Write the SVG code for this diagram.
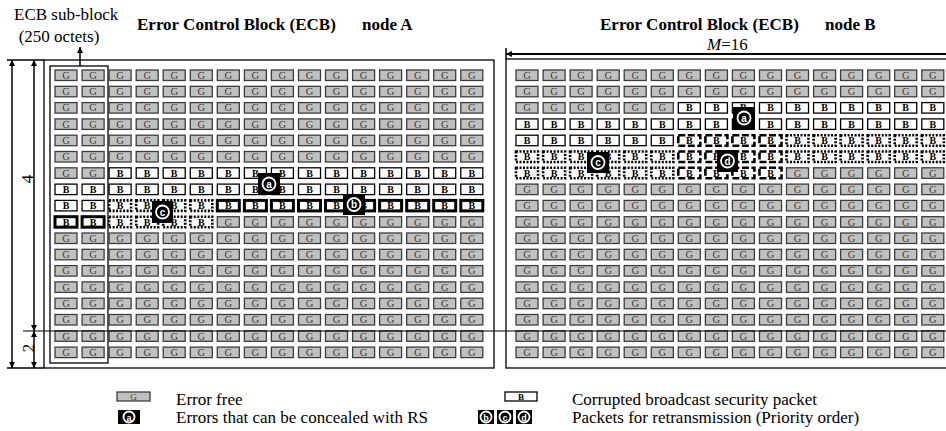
<svg xmlns="http://www.w3.org/2000/svg" width="946" height="431" viewBox="0 0 946 431">
<defs>
<marker id="ah" viewBox="0 0 10 10" refX="10" refY="5" markerWidth="6" markerHeight="7" markerUnits="userSpaceOnUse" orient="auto-start-reverse"><path d="M0,0 L10,5 L0,10 z" fill="#000"/></marker>
</defs>
<style>
.G rect{fill:#c0c0c0;stroke:#3c3c3c;stroke-width:1.3}
.G text{font:10.5px "Liberation Serif",serif;fill:#3c3c3c;text-anchor:middle}
.B rect{fill:#fff;stroke:#000;stroke-width:1.3}
.B text,.T text,.D text,.H text{font:bold 10px "Liberation Serif",serif;fill:#000;text-anchor:middle}
.T rect{fill:#fff;stroke:#000;stroke-width:3}
.D rect{fill:#fff;stroke:#000;stroke-width:2.6;stroke-dasharray:2 1.5}
.H rect{fill:#fff;stroke:#000;stroke-width:2.6;stroke-dasharray:7 2.5}
.badge rect{fill:#000}
.badge circle{fill:none;stroke:#fff;stroke-width:1.8}
.badge text{font:bold 10px "Liberation Sans",sans-serif;fill:#fff;text-anchor:middle}
.lbl{font:17px "Liberation Serif",serif;fill:#000}
.ttl{font:bold 17px "Liberation Serif",serif;fill:#000}
.frame{fill:none;stroke:#000;stroke-width:1.3}
.dim{fill:none;stroke:#000;stroke-width:1.5}
</style>
<rect width="946" height="431" fill="#fff"/>

<g id="labels">
<text class="lbl" x="14" y="20">ECB sub-block</text>
<text class="lbl" x="59" y="42" text-anchor="middle">(250 octets)</text>
<text class="lbl" x="0" y="0" font-style="italic" transform="translate(33,179) rotate(-90)" text-anchor="middle">4</text>
<text class="lbl" x="0" y="0" font-style="italic" transform="translate(34,348) rotate(-90)" text-anchor="middle">2</text>
<text class="lbl" x="707" y="50"><tspan font-style="italic">M</tspan>=16</text>
</g>

<g id="nodeA">
<text class="ttl" x="137" y="30">Error Control Block (ECB)</text>
<text class="ttl" x="362" y="30">node A</text>
<rect class="frame" x="44" y="60" width="450" height="308"/>
<rect class="frame" x="50" y="66" width="58" height="297"/>
<g transform="translate(0,70)"><g class="G"><rect x="55" width="22" height="10.5"/><text x="66" y="8.8">G</text><rect x="82.1" width="22" height="10.5"/><text x="93.1" y="8.8">G</text><rect x="109.1" width="22" height="10.5"/><text x="120.1" y="8.8">G</text><rect x="136.2" width="22" height="10.5"/><text x="147.2" y="8.8">G</text><rect x="163.2" width="22" height="10.5"/><text x="174.2" y="8.8">G</text><rect x="190.3" width="22" height="10.5"/><text x="201.3" y="8.8">G</text><rect x="217.3" width="22" height="10.5"/><text x="228.3" y="8.8">G</text><rect x="244.4" width="22" height="10.5"/><text x="255.4" y="8.8">G</text><rect x="271.4" width="22" height="10.5"/><text x="282.4" y="8.8">G</text><rect x="298.5" width="22" height="10.5"/><text x="309.5" y="8.8">G</text><rect x="325.5" width="22" height="10.5"/><text x="336.5" y="8.8">G</text><rect x="352.6" width="22" height="10.5"/><text x="363.6" y="8.8">G</text><rect x="379.6" width="22" height="10.5"/><text x="390.6" y="8.8">G</text><rect x="406.7" width="22" height="10.5"/><text x="417.7" y="8.8">G</text><rect x="433.7" width="22" height="10.5"/><text x="444.7" y="8.8">G</text><rect x="460.8" width="22" height="10.5"/><text x="471.8" y="8.8">G</text></g></g>
<g transform="translate(0,86.3)"><g class="G"><rect x="55" width="22" height="10.5"/><text x="66" y="8.8">G</text><rect x="82.1" width="22" height="10.5"/><text x="93.1" y="8.8">G</text><rect x="109.1" width="22" height="10.5"/><text x="120.1" y="8.8">G</text><rect x="136.2" width="22" height="10.5"/><text x="147.2" y="8.8">G</text><rect x="163.2" width="22" height="10.5"/><text x="174.2" y="8.8">G</text><rect x="190.3" width="22" height="10.5"/><text x="201.3" y="8.8">G</text><rect x="217.3" width="22" height="10.5"/><text x="228.3" y="8.8">G</text><rect x="244.4" width="22" height="10.5"/><text x="255.4" y="8.8">G</text><rect x="271.4" width="22" height="10.5"/><text x="282.4" y="8.8">G</text><rect x="298.5" width="22" height="10.5"/><text x="309.5" y="8.8">G</text><rect x="325.5" width="22" height="10.5"/><text x="336.5" y="8.8">G</text><rect x="352.6" width="22" height="10.5"/><text x="363.6" y="8.8">G</text><rect x="379.6" width="22" height="10.5"/><text x="390.6" y="8.8">G</text><rect x="406.7" width="22" height="10.5"/><text x="417.7" y="8.8">G</text><rect x="433.7" width="22" height="10.5"/><text x="444.7" y="8.8">G</text><rect x="460.8" width="22" height="10.5"/><text x="471.8" y="8.8">G</text></g></g>
<g transform="translate(0,102.6)"><g class="G"><rect x="55" width="22" height="10.5"/><text x="66" y="8.8">G</text><rect x="82.1" width="22" height="10.5"/><text x="93.1" y="8.8">G</text><rect x="109.1" width="22" height="10.5"/><text x="120.1" y="8.8">G</text><rect x="136.2" width="22" height="10.5"/><text x="147.2" y="8.8">G</text><rect x="163.2" width="22" height="10.5"/><text x="174.2" y="8.8">G</text><rect x="190.3" width="22" height="10.5"/><text x="201.3" y="8.8">G</text><rect x="217.3" width="22" height="10.5"/><text x="228.3" y="8.8">G</text><rect x="244.4" width="22" height="10.5"/><text x="255.4" y="8.8">G</text><rect x="271.4" width="22" height="10.5"/><text x="282.4" y="8.8">G</text><rect x="298.5" width="22" height="10.5"/><text x="309.5" y="8.8">G</text><rect x="325.5" width="22" height="10.5"/><text x="336.5" y="8.8">G</text><rect x="352.6" width="22" height="10.5"/><text x="363.6" y="8.8">G</text><rect x="379.6" width="22" height="10.5"/><text x="390.6" y="8.8">G</text><rect x="406.7" width="22" height="10.5"/><text x="417.7" y="8.8">G</text><rect x="433.7" width="22" height="10.5"/><text x="444.7" y="8.8">G</text><rect x="460.8" width="22" height="10.5"/><text x="471.8" y="8.8">G</text></g></g>
<g transform="translate(0,118.9)"><g class="G"><rect x="55" width="22" height="10.5"/><text x="66" y="8.8">G</text><rect x="82.1" width="22" height="10.5"/><text x="93.1" y="8.8">G</text><rect x="109.1" width="22" height="10.5"/><text x="120.1" y="8.8">G</text><rect x="136.2" width="22" height="10.5"/><text x="147.2" y="8.8">G</text><rect x="163.2" width="22" height="10.5"/><text x="174.2" y="8.8">G</text><rect x="190.3" width="22" height="10.5"/><text x="201.3" y="8.8">G</text><rect x="217.3" width="22" height="10.5"/><text x="228.3" y="8.8">G</text><rect x="244.4" width="22" height="10.5"/><text x="255.4" y="8.8">G</text><rect x="271.4" width="22" height="10.5"/><text x="282.4" y="8.8">G</text><rect x="298.5" width="22" height="10.5"/><text x="309.5" y="8.8">G</text><rect x="325.5" width="22" height="10.5"/><text x="336.5" y="8.8">G</text><rect x="352.6" width="22" height="10.5"/><text x="363.6" y="8.8">G</text><rect x="379.6" width="22" height="10.5"/><text x="390.6" y="8.8">G</text><rect x="406.7" width="22" height="10.5"/><text x="417.7" y="8.8">G</text><rect x="433.7" width="22" height="10.5"/><text x="444.7" y="8.8">G</text><rect x="460.8" width="22" height="10.5"/><text x="471.8" y="8.8">G</text></g></g>
<g transform="translate(0,135.2)"><g class="G"><rect x="55" width="22" height="10.5"/><text x="66" y="8.8">G</text><rect x="82.1" width="22" height="10.5"/><text x="93.1" y="8.8">G</text><rect x="109.1" width="22" height="10.5"/><text x="120.1" y="8.8">G</text><rect x="136.2" width="22" height="10.5"/><text x="147.2" y="8.8">G</text><rect x="163.2" width="22" height="10.5"/><text x="174.2" y="8.8">G</text><rect x="190.3" width="22" height="10.5"/><text x="201.3" y="8.8">G</text><rect x="217.3" width="22" height="10.5"/><text x="228.3" y="8.8">G</text><rect x="244.4" width="22" height="10.5"/><text x="255.4" y="8.8">G</text><rect x="271.4" width="22" height="10.5"/><text x="282.4" y="8.8">G</text><rect x="298.5" width="22" height="10.5"/><text x="309.5" y="8.8">G</text><rect x="325.5" width="22" height="10.5"/><text x="336.5" y="8.8">G</text><rect x="352.6" width="22" height="10.5"/><text x="363.6" y="8.8">G</text><rect x="379.6" width="22" height="10.5"/><text x="390.6" y="8.8">G</text><rect x="406.7" width="22" height="10.5"/><text x="417.7" y="8.8">G</text><rect x="433.7" width="22" height="10.5"/><text x="444.7" y="8.8">G</text><rect x="460.8" width="22" height="10.5"/><text x="471.8" y="8.8">G</text></g></g>
<g transform="translate(0,151.5)"><g class="G"><rect x="55" width="22" height="10.5"/><text x="66" y="8.8">G</text><rect x="82.1" width="22" height="10.5"/><text x="93.1" y="8.8">G</text><rect x="109.1" width="22" height="10.5"/><text x="120.1" y="8.8">G</text><rect x="136.2" width="22" height="10.5"/><text x="147.2" y="8.8">G</text><rect x="163.2" width="22" height="10.5"/><text x="174.2" y="8.8">G</text><rect x="190.3" width="22" height="10.5"/><text x="201.3" y="8.8">G</text><rect x="217.3" width="22" height="10.5"/><text x="228.3" y="8.8">G</text><rect x="244.4" width="22" height="10.5"/><text x="255.4" y="8.8">G</text><rect x="271.4" width="22" height="10.5"/><text x="282.4" y="8.8">G</text><rect x="298.5" width="22" height="10.5"/><text x="309.5" y="8.8">G</text><rect x="325.5" width="22" height="10.5"/><text x="336.5" y="8.8">G</text><rect x="352.6" width="22" height="10.5"/><text x="363.6" y="8.8">G</text><rect x="379.6" width="22" height="10.5"/><text x="390.6" y="8.8">G</text><rect x="406.7" width="22" height="10.5"/><text x="417.7" y="8.8">G</text><rect x="433.7" width="22" height="10.5"/><text x="444.7" y="8.8">G</text><rect x="460.8" width="22" height="10.5"/><text x="471.8" y="8.8">G</text></g></g>
<g transform="translate(0,167.8)"><g class="G"><rect x="55" width="22" height="10.5"/><text x="66" y="8.8">G</text><rect x="82.1" width="22" height="10.5"/><text x="93.1" y="8.8">G</text></g><g class="B"><rect x="109.1" width="22" height="10.5"/><text x="120.1" y="8.8">B</text><rect x="136.2" width="22" height="10.5"/><text x="147.2" y="8.8">B</text><rect x="163.2" width="22" height="10.5"/><text x="174.2" y="8.8">B</text><rect x="190.3" width="22" height="10.5"/><text x="201.3" y="8.8">B</text><rect x="217.3" width="22" height="10.5"/><text x="228.3" y="8.8">B</text><rect x="244.4" width="22" height="10.5"/><text x="255.4" y="8.8">B</text><rect x="271.4" width="22" height="10.5"/><text x="282.4" y="8.8">B</text><rect x="298.5" width="22" height="10.5"/><text x="309.5" y="8.8">B</text><rect x="325.5" width="22" height="10.5"/><text x="336.5" y="8.8">B</text><rect x="352.6" width="22" height="10.5"/><text x="363.6" y="8.8">B</text><rect x="379.6" width="22" height="10.5"/><text x="390.6" y="8.8">B</text><rect x="406.7" width="22" height="10.5"/><text x="417.7" y="8.8">B</text><rect x="433.7" width="22" height="10.5"/><text x="444.7" y="8.8">B</text><rect x="460.8" width="22" height="10.5"/><text x="471.8" y="8.8">B</text></g></g>
<g transform="translate(0,184.1)"><g class="B"><rect x="55" width="22" height="10.5"/><text x="66" y="8.8">B</text><rect x="82.1" width="22" height="10.5"/><text x="93.1" y="8.8">B</text><rect x="109.1" width="22" height="10.5"/><text x="120.1" y="8.8">B</text><rect x="136.2" width="22" height="10.5"/><text x="147.2" y="8.8">B</text><rect x="163.2" width="22" height="10.5"/><text x="174.2" y="8.8">B</text><rect x="190.3" width="22" height="10.5"/><text x="201.3" y="8.8">B</text><rect x="217.3" width="22" height="10.5"/><text x="228.3" y="8.8">B</text><rect x="244.4" width="22" height="10.5"/><text x="255.4" y="8.8">B</text><rect x="271.4" width="22" height="10.5"/><text x="282.4" y="8.8">B</text><rect x="298.5" width="22" height="10.5"/><text x="309.5" y="8.8">B</text><rect x="325.5" width="22" height="10.5"/><text x="336.5" y="8.8">B</text><rect x="352.6" width="22" height="10.5"/><text x="363.6" y="8.8">B</text><rect x="379.6" width="22" height="10.5"/><text x="390.6" y="8.8">B</text><rect x="406.7" width="22" height="10.5"/><text x="417.7" y="8.8">B</text><rect x="433.7" width="22" height="10.5"/><text x="444.7" y="8.8">B</text><rect x="460.8" width="22" height="10.5"/><text x="471.8" y="8.8">B</text></g></g>
<g transform="translate(0,200.4)"><g class="B"><rect x="55" width="22" height="10.5"/><text x="66" y="8.8">B</text><rect x="82.1" width="22" height="10.5"/><text x="93.1" y="8.8">B</text></g><g class="D"><rect x="109.1" width="22" height="10.5"/><text x="120.1" y="8.8">B</text><rect x="136.2" width="22" height="10.5"/><text x="147.2" y="8.8">B</text><rect x="163.2" width="22" height="10.5"/><text x="174.2" y="8.8">B</text><rect x="190.3" width="22" height="10.5"/><text x="201.3" y="8.8">B</text></g><g class="T"><rect x="217.3" width="22" height="10.5"/><text x="228.3" y="8.8">B</text><rect x="244.4" width="22" height="10.5"/><text x="255.4" y="8.8">B</text><rect x="271.4" width="22" height="10.5"/><text x="282.4" y="8.8">B</text><rect x="298.5" width="22" height="10.5"/><text x="309.5" y="8.8">B</text><rect x="325.5" width="22" height="10.5"/><text x="336.5" y="8.8">B</text><rect x="352.6" width="22" height="10.5"/><text x="363.6" y="8.8">B</text><rect x="379.6" width="22" height="10.5"/><text x="390.6" y="8.8">B</text><rect x="406.7" width="22" height="10.5"/><text x="417.7" y="8.8">B</text><rect x="433.7" width="22" height="10.5"/><text x="444.7" y="8.8">B</text><rect x="460.8" width="22" height="10.5"/><text x="471.8" y="8.8">B</text></g></g>
<g transform="translate(0,216.7)"><g class="T"><rect x="55" width="22" height="10.5"/><text x="66" y="8.8">B</text><rect x="82.1" width="22" height="10.5"/><text x="93.1" y="8.8">B</text></g><g class="D"><rect x="109.1" width="22" height="10.5"/><text x="120.1" y="8.8">B</text><rect x="136.2" width="22" height="10.5"/><text x="147.2" y="8.8">B</text><rect x="163.2" width="22" height="10.5"/><text x="174.2" y="8.8">B</text><rect x="190.3" width="22" height="10.5"/><text x="201.3" y="8.8">B</text></g><g class="G"><rect x="217.3" width="22" height="10.5"/><text x="228.3" y="8.8">G</text><rect x="244.4" width="22" height="10.5"/><text x="255.4" y="8.8">G</text><rect x="271.4" width="22" height="10.5"/><text x="282.4" y="8.8">G</text><rect x="298.5" width="22" height="10.5"/><text x="309.5" y="8.8">G</text><rect x="325.5" width="22" height="10.5"/><text x="336.5" y="8.8">G</text><rect x="352.6" width="22" height="10.5"/><text x="363.6" y="8.8">G</text><rect x="379.6" width="22" height="10.5"/><text x="390.6" y="8.8">G</text><rect x="406.7" width="22" height="10.5"/><text x="417.7" y="8.8">G</text><rect x="433.7" width="22" height="10.5"/><text x="444.7" y="8.8">G</text><rect x="460.8" width="22" height="10.5"/><text x="471.8" y="8.8">G</text></g></g>
<g transform="translate(0,233)"><g class="G"><rect x="55" width="22" height="10.5"/><text x="66" y="8.8">G</text><rect x="82.1" width="22" height="10.5"/><text x="93.1" y="8.8">G</text><rect x="109.1" width="22" height="10.5"/><text x="120.1" y="8.8">G</text><rect x="136.2" width="22" height="10.5"/><text x="147.2" y="8.8">G</text><rect x="163.2" width="22" height="10.5"/><text x="174.2" y="8.8">G</text><rect x="190.3" width="22" height="10.5"/><text x="201.3" y="8.8">G</text><rect x="217.3" width="22" height="10.5"/><text x="228.3" y="8.8">G</text><rect x="244.4" width="22" height="10.5"/><text x="255.4" y="8.8">G</text><rect x="271.4" width="22" height="10.5"/><text x="282.4" y="8.8">G</text><rect x="298.5" width="22" height="10.5"/><text x="309.5" y="8.8">G</text><rect x="325.5" width="22" height="10.5"/><text x="336.5" y="8.8">G</text><rect x="352.6" width="22" height="10.5"/><text x="363.6" y="8.8">G</text><rect x="379.6" width="22" height="10.5"/><text x="390.6" y="8.8">G</text><rect x="406.7" width="22" height="10.5"/><text x="417.7" y="8.8">G</text><rect x="433.7" width="22" height="10.5"/><text x="444.7" y="8.8">G</text><rect x="460.8" width="22" height="10.5"/><text x="471.8" y="8.8">G</text></g></g>
<g transform="translate(0,249.3)"><g class="G"><rect x="55" width="22" height="10.5"/><text x="66" y="8.8">G</text><rect x="82.1" width="22" height="10.5"/><text x="93.1" y="8.8">G</text><rect x="109.1" width="22" height="10.5"/><text x="120.1" y="8.8">G</text><rect x="136.2" width="22" height="10.5"/><text x="147.2" y="8.8">G</text><rect x="163.2" width="22" height="10.5"/><text x="174.2" y="8.8">G</text><rect x="190.3" width="22" height="10.5"/><text x="201.3" y="8.8">G</text><rect x="217.3" width="22" height="10.5"/><text x="228.3" y="8.8">G</text><rect x="244.4" width="22" height="10.5"/><text x="255.4" y="8.8">G</text><rect x="271.4" width="22" height="10.5"/><text x="282.4" y="8.8">G</text><rect x="298.5" width="22" height="10.5"/><text x="309.5" y="8.8">G</text><rect x="325.5" width="22" height="10.5"/><text x="336.5" y="8.8">G</text><rect x="352.6" width="22" height="10.5"/><text x="363.6" y="8.8">G</text><rect x="379.6" width="22" height="10.5"/><text x="390.6" y="8.8">G</text><rect x="406.7" width="22" height="10.5"/><text x="417.7" y="8.8">G</text><rect x="433.7" width="22" height="10.5"/><text x="444.7" y="8.8">G</text><rect x="460.8" width="22" height="10.5"/><text x="471.8" y="8.8">G</text></g></g>
<g transform="translate(0,265.6)"><g class="G"><rect x="55" width="22" height="10.5"/><text x="66" y="8.8">G</text><rect x="82.1" width="22" height="10.5"/><text x="93.1" y="8.8">G</text><rect x="109.1" width="22" height="10.5"/><text x="120.1" y="8.8">G</text><rect x="136.2" width="22" height="10.5"/><text x="147.2" y="8.8">G</text><rect x="163.2" width="22" height="10.5"/><text x="174.2" y="8.8">G</text><rect x="190.3" width="22" height="10.5"/><text x="201.3" y="8.8">G</text><rect x="217.3" width="22" height="10.5"/><text x="228.3" y="8.8">G</text><rect x="244.4" width="22" height="10.5"/><text x="255.4" y="8.8">G</text><rect x="271.4" width="22" height="10.5"/><text x="282.4" y="8.8">G</text><rect x="298.5" width="22" height="10.5"/><text x="309.5" y="8.8">G</text><rect x="325.5" width="22" height="10.5"/><text x="336.5" y="8.8">G</text><rect x="352.6" width="22" height="10.5"/><text x="363.6" y="8.8">G</text><rect x="379.6" width="22" height="10.5"/><text x="390.6" y="8.8">G</text><rect x="406.7" width="22" height="10.5"/><text x="417.7" y="8.8">G</text><rect x="433.7" width="22" height="10.5"/><text x="444.7" y="8.8">G</text><rect x="460.8" width="22" height="10.5"/><text x="471.8" y="8.8">G</text></g></g>
<g transform="translate(0,281.9)"><g class="G"><rect x="55" width="22" height="10.5"/><text x="66" y="8.8">G</text><rect x="82.1" width="22" height="10.5"/><text x="93.1" y="8.8">G</text><rect x="109.1" width="22" height="10.5"/><text x="120.1" y="8.8">G</text><rect x="136.2" width="22" height="10.5"/><text x="147.2" y="8.8">G</text><rect x="163.2" width="22" height="10.5"/><text x="174.2" y="8.8">G</text><rect x="190.3" width="22" height="10.5"/><text x="201.3" y="8.8">G</text><rect x="217.3" width="22" height="10.5"/><text x="228.3" y="8.8">G</text><rect x="244.4" width="22" height="10.5"/><text x="255.4" y="8.8">G</text><rect x="271.4" width="22" height="10.5"/><text x="282.4" y="8.8">G</text><rect x="298.5" width="22" height="10.5"/><text x="309.5" y="8.8">G</text><rect x="325.5" width="22" height="10.5"/><text x="336.5" y="8.8">G</text><rect x="352.6" width="22" height="10.5"/><text x="363.6" y="8.8">G</text><rect x="379.6" width="22" height="10.5"/><text x="390.6" y="8.8">G</text><rect x="406.7" width="22" height="10.5"/><text x="417.7" y="8.8">G</text><rect x="433.7" width="22" height="10.5"/><text x="444.7" y="8.8">G</text><rect x="460.8" width="22" height="10.5"/><text x="471.8" y="8.8">G</text></g></g>
<g transform="translate(0,298.2)"><g class="G"><rect x="55" width="22" height="10.5"/><text x="66" y="8.8">G</text><rect x="82.1" width="22" height="10.5"/><text x="93.1" y="8.8">G</text><rect x="109.1" width="22" height="10.5"/><text x="120.1" y="8.8">G</text><rect x="136.2" width="22" height="10.5"/><text x="147.2" y="8.8">G</text><rect x="163.2" width="22" height="10.5"/><text x="174.2" y="8.8">G</text><rect x="190.3" width="22" height="10.5"/><text x="201.3" y="8.8">G</text><rect x="217.3" width="22" height="10.5"/><text x="228.3" y="8.8">G</text><rect x="244.4" width="22" height="10.5"/><text x="255.4" y="8.8">G</text><rect x="271.4" width="22" height="10.5"/><text x="282.4" y="8.8">G</text><rect x="298.5" width="22" height="10.5"/><text x="309.5" y="8.8">G</text><rect x="325.5" width="22" height="10.5"/><text x="336.5" y="8.8">G</text><rect x="352.6" width="22" height="10.5"/><text x="363.6" y="8.8">G</text><rect x="379.6" width="22" height="10.5"/><text x="390.6" y="8.8">G</text><rect x="406.7" width="22" height="10.5"/><text x="417.7" y="8.8">G</text><rect x="433.7" width="22" height="10.5"/><text x="444.7" y="8.8">G</text><rect x="460.8" width="22" height="10.5"/><text x="471.8" y="8.8">G</text></g></g>
<g transform="translate(0,314.5)"><g class="G"><rect x="55" width="22" height="10.5"/><text x="66" y="8.8">G</text><rect x="82.1" width="22" height="10.5"/><text x="93.1" y="8.8">G</text><rect x="109.1" width="22" height="10.5"/><text x="120.1" y="8.8">G</text><rect x="136.2" width="22" height="10.5"/><text x="147.2" y="8.8">G</text><rect x="163.2" width="22" height="10.5"/><text x="174.2" y="8.8">G</text><rect x="190.3" width="22" height="10.5"/><text x="201.3" y="8.8">G</text><rect x="217.3" width="22" height="10.5"/><text x="228.3" y="8.8">G</text><rect x="244.4" width="22" height="10.5"/><text x="255.4" y="8.8">G</text><rect x="271.4" width="22" height="10.5"/><text x="282.4" y="8.8">G</text><rect x="298.5" width="22" height="10.5"/><text x="309.5" y="8.8">G</text><rect x="325.5" width="22" height="10.5"/><text x="336.5" y="8.8">G</text><rect x="352.6" width="22" height="10.5"/><text x="363.6" y="8.8">G</text><rect x="379.6" width="22" height="10.5"/><text x="390.6" y="8.8">G</text><rect x="406.7" width="22" height="10.5"/><text x="417.7" y="8.8">G</text><rect x="433.7" width="22" height="10.5"/><text x="444.7" y="8.8">G</text><rect x="460.8" width="22" height="10.5"/><text x="471.8" y="8.8">G</text></g></g>
<g transform="translate(0,330.8)"><g class="G"><rect x="55" width="22" height="10.5"/><text x="66" y="8.8">G</text><rect x="82.1" width="22" height="10.5"/><text x="93.1" y="8.8">G</text><rect x="109.1" width="22" height="10.5"/><text x="120.1" y="8.8">G</text><rect x="136.2" width="22" height="10.5"/><text x="147.2" y="8.8">G</text><rect x="163.2" width="22" height="10.5"/><text x="174.2" y="8.8">G</text><rect x="190.3" width="22" height="10.5"/><text x="201.3" y="8.8">G</text><rect x="217.3" width="22" height="10.5"/><text x="228.3" y="8.8">G</text><rect x="244.4" width="22" height="10.5"/><text x="255.4" y="8.8">G</text><rect x="271.4" width="22" height="10.5"/><text x="282.4" y="8.8">G</text><rect x="298.5" width="22" height="10.5"/><text x="309.5" y="8.8">G</text><rect x="325.5" width="22" height="10.5"/><text x="336.5" y="8.8">G</text><rect x="352.6" width="22" height="10.5"/><text x="363.6" y="8.8">G</text><rect x="379.6" width="22" height="10.5"/><text x="390.6" y="8.8">G</text><rect x="406.7" width="22" height="10.5"/><text x="417.7" y="8.8">G</text><rect x="433.7" width="22" height="10.5"/><text x="444.7" y="8.8">G</text><rect x="460.8" width="22" height="10.5"/><text x="471.8" y="8.8">G</text></g></g>
<g transform="translate(0,347.1)"><g class="G"><rect x="55" width="22" height="10.5"/><text x="66" y="8.8">G</text><rect x="82.1" width="22" height="10.5"/><text x="93.1" y="8.8">G</text><rect x="109.1" width="22" height="10.5"/><text x="120.1" y="8.8">G</text><rect x="136.2" width="22" height="10.5"/><text x="147.2" y="8.8">G</text><rect x="163.2" width="22" height="10.5"/><text x="174.2" y="8.8">G</text><rect x="190.3" width="22" height="10.5"/><text x="201.3" y="8.8">G</text><rect x="217.3" width="22" height="10.5"/><text x="228.3" y="8.8">G</text><rect x="244.4" width="22" height="10.5"/><text x="255.4" y="8.8">G</text><rect x="271.4" width="22" height="10.5"/><text x="282.4" y="8.8">G</text><rect x="298.5" width="22" height="10.5"/><text x="309.5" y="8.8">G</text><rect x="325.5" width="22" height="10.5"/><text x="336.5" y="8.8">G</text><rect x="352.6" width="22" height="10.5"/><text x="363.6" y="8.8">G</text><rect x="379.6" width="22" height="10.5"/><text x="390.6" y="8.8">G</text><rect x="406.7" width="22" height="10.5"/><text x="417.7" y="8.8">G</text><rect x="433.7" width="22" height="10.5"/><text x="444.7" y="8.8">G</text><rect x="460.8" width="22" height="10.5"/><text x="471.8" y="8.8">G</text></g></g>
<g class="badge"><rect x="258" y="173" width="22" height="22"/><circle cx="269" cy="184" r="6.5"/><text x="269" y="187.5">a</text></g>
<g class="badge"><rect x="343" y="194" width="22" height="21"/><circle cx="354" cy="204.5" r="6.5"/><text x="354" y="208">b</text></g>
<g class="badge"><rect x="152" y="201" width="21" height="22"/><circle cx="162.5" cy="212" r="6.5"/><text x="162.5" y="215.5">c</text></g>
</g>

<g id="nodeB">
<text class="ttl" x="600" y="30">Error Control Block (ECB)</text>
<text class="ttl" x="825" y="30">node B</text>
<rect class="frame" x="506" y="59" width="450" height="309"/>
<g transform="translate(0,70)"><g class="G"><rect x="516" width="22" height="10.5"/><text x="527" y="8.8">G</text><rect x="543.1" width="22" height="10.5"/><text x="554.1" y="8.8">G</text><rect x="570.1" width="22" height="10.5"/><text x="581.1" y="8.8">G</text><rect x="597.2" width="22" height="10.5"/><text x="608.2" y="8.8">G</text><rect x="624.2" width="22" height="10.5"/><text x="635.2" y="8.8">G</text><rect x="651.3" width="22" height="10.5"/><text x="662.3" y="8.8">G</text><rect x="678.3" width="22" height="10.5"/><text x="689.3" y="8.8">G</text><rect x="705.4" width="22" height="10.5"/><text x="716.4" y="8.8">G</text><rect x="732.4" width="22" height="10.5"/><text x="743.4" y="8.8">G</text><rect x="759.5" width="22" height="10.5"/><text x="770.5" y="8.8">G</text><rect x="786.5" width="22" height="10.5"/><text x="797.5" y="8.8">G</text><rect x="813.6" width="22" height="10.5"/><text x="824.6" y="8.8">G</text><rect x="840.6" width="22" height="10.5"/><text x="851.6" y="8.8">G</text><rect x="867.7" width="22" height="10.5"/><text x="878.7" y="8.8">G</text><rect x="894.7" width="22" height="10.5"/><text x="905.7" y="8.8">G</text><rect x="921.8" width="22" height="10.5"/><text x="932.8" y="8.8">G</text></g></g>
<g transform="translate(0,86.3)"><g class="G"><rect x="516" width="22" height="10.5"/><text x="527" y="8.8">G</text><rect x="543.1" width="22" height="10.5"/><text x="554.1" y="8.8">G</text><rect x="570.1" width="22" height="10.5"/><text x="581.1" y="8.8">G</text><rect x="597.2" width="22" height="10.5"/><text x="608.2" y="8.8">G</text><rect x="624.2" width="22" height="10.5"/><text x="635.2" y="8.8">G</text><rect x="651.3" width="22" height="10.5"/><text x="662.3" y="8.8">G</text><rect x="678.3" width="22" height="10.5"/><text x="689.3" y="8.8">G</text><rect x="705.4" width="22" height="10.5"/><text x="716.4" y="8.8">G</text><rect x="732.4" width="22" height="10.5"/><text x="743.4" y="8.8">G</text><rect x="759.5" width="22" height="10.5"/><text x="770.5" y="8.8">G</text><rect x="786.5" width="22" height="10.5"/><text x="797.5" y="8.8">G</text><rect x="813.6" width="22" height="10.5"/><text x="824.6" y="8.8">G</text><rect x="840.6" width="22" height="10.5"/><text x="851.6" y="8.8">G</text><rect x="867.7" width="22" height="10.5"/><text x="878.7" y="8.8">G</text><rect x="894.7" width="22" height="10.5"/><text x="905.7" y="8.8">G</text><rect x="921.8" width="22" height="10.5"/><text x="932.8" y="8.8">G</text></g></g>
<g transform="translate(0,102.6)"><g class="G"><rect x="516" width="22" height="10.5"/><text x="527" y="8.8">G</text><rect x="543.1" width="22" height="10.5"/><text x="554.1" y="8.8">G</text><rect x="570.1" width="22" height="10.5"/><text x="581.1" y="8.8">G</text><rect x="597.2" width="22" height="10.5"/><text x="608.2" y="8.8">G</text><rect x="624.2" width="22" height="10.5"/><text x="635.2" y="8.8">G</text><rect x="651.3" width="22" height="10.5"/><text x="662.3" y="8.8">G</text></g><g class="B"><rect x="678.3" width="22" height="10.5"/><text x="689.3" y="8.8">B</text><rect x="705.4" width="22" height="10.5"/><text x="716.4" y="8.8">B</text><rect x="732.4" width="22" height="10.5"/><text x="743.4" y="8.8">B</text><rect x="759.5" width="22" height="10.5"/><text x="770.5" y="8.8">B</text><rect x="786.5" width="22" height="10.5"/><text x="797.5" y="8.8">B</text><rect x="813.6" width="22" height="10.5"/><text x="824.6" y="8.8">B</text><rect x="840.6" width="22" height="10.5"/><text x="851.6" y="8.8">B</text><rect x="867.7" width="22" height="10.5"/><text x="878.7" y="8.8">B</text><rect x="894.7" width="22" height="10.5"/><text x="905.7" y="8.8">B</text><rect x="921.8" width="22" height="10.5"/><text x="932.8" y="8.8">B</text></g></g>
<g transform="translate(0,118.9)"><g class="B"><rect x="516" width="22" height="10.5"/><text x="527" y="8.8">B</text><rect x="543.1" width="22" height="10.5"/><text x="554.1" y="8.8">B</text><rect x="570.1" width="22" height="10.5"/><text x="581.1" y="8.8">B</text><rect x="597.2" width="22" height="10.5"/><text x="608.2" y="8.8">B</text><rect x="624.2" width="22" height="10.5"/><text x="635.2" y="8.8">B</text><rect x="651.3" width="22" height="10.5"/><text x="662.3" y="8.8">B</text><rect x="678.3" width="22" height="10.5"/><text x="689.3" y="8.8">B</text><rect x="705.4" width="22" height="10.5"/><text x="716.4" y="8.8">B</text><rect x="732.4" width="22" height="10.5"/><rect x="759.5" width="22" height="10.5"/><text x="770.5" y="8.8">B</text><rect x="786.5" width="22" height="10.5"/><text x="797.5" y="8.8">B</text><rect x="813.6" width="22" height="10.5"/><text x="824.6" y="8.8">B</text><rect x="840.6" width="22" height="10.5"/><text x="851.6" y="8.8">B</text><rect x="867.7" width="22" height="10.5"/><text x="878.7" y="8.8">B</text><rect x="894.7" width="22" height="10.5"/><text x="905.7" y="8.8">B</text><rect x="921.8" width="22" height="10.5"/><text x="932.8" y="8.8">B</text></g></g>
<g transform="translate(0,135.2)"><g class="B"><rect x="516" width="22" height="10.5"/><text x="527" y="8.8">B</text><rect x="543.1" width="22" height="10.5"/><text x="554.1" y="8.8">B</text><rect x="570.1" width="22" height="10.5"/><text x="581.1" y="8.8">B</text><rect x="597.2" width="22" height="10.5"/><text x="608.2" y="8.8">B</text><rect x="624.2" width="22" height="10.5"/><text x="635.2" y="8.8">B</text><rect x="651.3" width="22" height="10.5"/><text x="662.3" y="8.8">B</text></g><g class="H"><rect x="678.3" width="22" height="10.5"/><text x="689.3" y="8.8">B</text><rect x="705.4" width="22" height="10.5"/><text x="716.4" y="8.8">B</text><rect x="732.4" width="22" height="10.5"/><text x="743.4" y="8.8">B</text><rect x="759.5" width="22" height="10.5"/><text x="770.5" y="8.8">B</text></g><g class="D"><rect x="786.5" width="22" height="10.5"/><text x="797.5" y="8.8">B</text><rect x="813.6" width="22" height="10.5"/><text x="824.6" y="8.8">B</text><rect x="840.6" width="22" height="10.5"/><text x="851.6" y="8.8">B</text><rect x="867.7" width="22" height="10.5"/><text x="878.7" y="8.8">B</text><rect x="894.7" width="22" height="10.5"/><text x="905.7" y="8.8">B</text><rect x="921.8" width="22" height="10.5"/><text x="932.8" y="8.8">B</text></g></g>
<g transform="translate(0,151.5)"><g class="D"><rect x="516" width="22" height="10.5"/><text x="527" y="8.8">B</text><rect x="543.1" width="22" height="10.5"/><text x="554.1" y="8.8">B</text><rect x="570.1" width="22" height="10.5"/><text x="581.1" y="8.8">B</text><rect x="597.2" width="22" height="10.5"/><text x="608.2" y="8.8">B</text><rect x="624.2" width="22" height="10.5"/><text x="635.2" y="8.8">B</text><rect x="651.3" width="22" height="10.5"/><text x="662.3" y="8.8">B</text></g><g class="H"><rect x="678.3" width="22" height="10.5"/><text x="689.3" y="8.8">B</text><rect x="705.4" width="22" height="10.5"/><text x="716.4" y="8.8">B</text><rect x="732.4" width="22" height="10.5"/><text x="743.4" y="8.8">B</text><rect x="759.5" width="22" height="10.5"/><text x="770.5" y="8.8">B</text></g><g class="D"><rect x="786.5" width="22" height="10.5"/><text x="797.5" y="8.8">B</text><rect x="813.6" width="22" height="10.5"/><text x="824.6" y="8.8">B</text><rect x="840.6" width="22" height="10.5"/><text x="851.6" y="8.8">B</text><rect x="867.7" width="22" height="10.5"/><text x="878.7" y="8.8">B</text><rect x="894.7" width="22" height="10.5"/><text x="905.7" y="8.8">B</text><rect x="921.8" width="22" height="10.5"/><text x="932.8" y="8.8">B</text></g></g>
<g transform="translate(0,167.8)"><g class="D"><rect x="516" width="22" height="10.5"/><text x="527" y="8.8">B</text><rect x="543.1" width="22" height="10.5"/><text x="554.1" y="8.8">B</text><rect x="570.1" width="22" height="10.5"/><text x="581.1" y="8.8">B</text><rect x="597.2" width="22" height="10.5"/><text x="608.2" y="8.8">B</text><rect x="624.2" width="22" height="10.5"/><text x="635.2" y="8.8">B</text><rect x="651.3" width="22" height="10.5"/><text x="662.3" y="8.8">B</text></g><g class="H"><rect x="678.3" width="22" height="10.5"/><text x="689.3" y="8.8">B</text><rect x="705.4" width="22" height="10.5"/><text x="716.4" y="8.8">B</text><rect x="732.4" width="22" height="10.5"/><text x="743.4" y="8.8">B</text><rect x="759.5" width="22" height="10.5"/><text x="770.5" y="8.8">B</text></g><g class="G"><rect x="786.5" width="22" height="10.5"/><text x="797.5" y="8.8">G</text><rect x="813.6" width="22" height="10.5"/><text x="824.6" y="8.8">G</text><rect x="840.6" width="22" height="10.5"/><text x="851.6" y="8.8">G</text><rect x="867.7" width="22" height="10.5"/><text x="878.7" y="8.8">G</text><rect x="894.7" width="22" height="10.5"/><text x="905.7" y="8.8">G</text><rect x="921.8" width="22" height="10.5"/><text x="932.8" y="8.8">G</text></g></g>
<g transform="translate(0,184.1)"><g class="G"><rect x="516" width="22" height="10.5"/><text x="527" y="8.8">G</text><rect x="543.1" width="22" height="10.5"/><text x="554.1" y="8.8">G</text><rect x="570.1" width="22" height="10.5"/><text x="581.1" y="8.8">G</text><rect x="597.2" width="22" height="10.5"/><text x="608.2" y="8.8">G</text><rect x="624.2" width="22" height="10.5"/><text x="635.2" y="8.8">G</text><rect x="651.3" width="22" height="10.5"/><text x="662.3" y="8.8">G</text><rect x="678.3" width="22" height="10.5"/><text x="689.3" y="8.8">G</text><rect x="705.4" width="22" height="10.5"/><text x="716.4" y="8.8">G</text><rect x="732.4" width="22" height="10.5"/><text x="743.4" y="8.8">G</text><rect x="759.5" width="22" height="10.5"/><text x="770.5" y="8.8">G</text><rect x="786.5" width="22" height="10.5"/><text x="797.5" y="8.8">G</text><rect x="813.6" width="22" height="10.5"/><text x="824.6" y="8.8">G</text><rect x="840.6" width="22" height="10.5"/><text x="851.6" y="8.8">G</text><rect x="867.7" width="22" height="10.5"/><text x="878.7" y="8.8">G</text><rect x="894.7" width="22" height="10.5"/><text x="905.7" y="8.8">G</text><rect x="921.8" width="22" height="10.5"/><text x="932.8" y="8.8">G</text></g></g>
<g transform="translate(0,200.4)"><g class="G"><rect x="516" width="22" height="10.5"/><text x="527" y="8.8">G</text><rect x="543.1" width="22" height="10.5"/><text x="554.1" y="8.8">G</text><rect x="570.1" width="22" height="10.5"/><text x="581.1" y="8.8">G</text><rect x="597.2" width="22" height="10.5"/><text x="608.2" y="8.8">G</text><rect x="624.2" width="22" height="10.5"/><text x="635.2" y="8.8">G</text><rect x="651.3" width="22" height="10.5"/><text x="662.3" y="8.8">G</text><rect x="678.3" width="22" height="10.5"/><text x="689.3" y="8.8">G</text><rect x="705.4" width="22" height="10.5"/><text x="716.4" y="8.8">G</text><rect x="732.4" width="22" height="10.5"/><text x="743.4" y="8.8">G</text><rect x="759.5" width="22" height="10.5"/><text x="770.5" y="8.8">G</text><rect x="786.5" width="22" height="10.5"/><text x="797.5" y="8.8">G</text><rect x="813.6" width="22" height="10.5"/><text x="824.6" y="8.8">G</text><rect x="840.6" width="22" height="10.5"/><text x="851.6" y="8.8">G</text><rect x="867.7" width="22" height="10.5"/><text x="878.7" y="8.8">G</text><rect x="894.7" width="22" height="10.5"/><text x="905.7" y="8.8">G</text><rect x="921.8" width="22" height="10.5"/><text x="932.8" y="8.8">G</text></g></g>
<g transform="translate(0,216.7)"><g class="G"><rect x="516" width="22" height="10.5"/><text x="527" y="8.8">G</text><rect x="543.1" width="22" height="10.5"/><text x="554.1" y="8.8">G</text><rect x="570.1" width="22" height="10.5"/><text x="581.1" y="8.8">G</text><rect x="597.2" width="22" height="10.5"/><text x="608.2" y="8.8">G</text><rect x="624.2" width="22" height="10.5"/><text x="635.2" y="8.8">G</text><rect x="651.3" width="22" height="10.5"/><text x="662.3" y="8.8">G</text><rect x="678.3" width="22" height="10.5"/><text x="689.3" y="8.8">G</text><rect x="705.4" width="22" height="10.5"/><text x="716.4" y="8.8">G</text><rect x="732.4" width="22" height="10.5"/><text x="743.4" y="8.8">G</text><rect x="759.5" width="22" height="10.5"/><text x="770.5" y="8.8">G</text><rect x="786.5" width="22" height="10.5"/><text x="797.5" y="8.8">G</text><rect x="813.6" width="22" height="10.5"/><text x="824.6" y="8.8">G</text><rect x="840.6" width="22" height="10.5"/><text x="851.6" y="8.8">G</text><rect x="867.7" width="22" height="10.5"/><text x="878.7" y="8.8">G</text><rect x="894.7" width="22" height="10.5"/><text x="905.7" y="8.8">G</text><rect x="921.8" width="22" height="10.5"/><text x="932.8" y="8.8">G</text></g></g>
<g transform="translate(0,233)"><g class="G"><rect x="516" width="22" height="10.5"/><text x="527" y="8.8">G</text><rect x="543.1" width="22" height="10.5"/><text x="554.1" y="8.8">G</text><rect x="570.1" width="22" height="10.5"/><text x="581.1" y="8.8">G</text><rect x="597.2" width="22" height="10.5"/><text x="608.2" y="8.8">G</text><rect x="624.2" width="22" height="10.5"/><text x="635.2" y="8.8">G</text><rect x="651.3" width="22" height="10.5"/><text x="662.3" y="8.8">G</text><rect x="678.3" width="22" height="10.5"/><text x="689.3" y="8.8">G</text><rect x="705.4" width="22" height="10.5"/><text x="716.4" y="8.8">G</text><rect x="732.4" width="22" height="10.5"/><text x="743.4" y="8.8">G</text><rect x="759.5" width="22" height="10.5"/><text x="770.5" y="8.8">G</text><rect x="786.5" width="22" height="10.5"/><text x="797.5" y="8.8">G</text><rect x="813.6" width="22" height="10.5"/><text x="824.6" y="8.8">G</text><rect x="840.6" width="22" height="10.5"/><text x="851.6" y="8.8">G</text><rect x="867.7" width="22" height="10.5"/><text x="878.7" y="8.8">G</text><rect x="894.7" width="22" height="10.5"/><text x="905.7" y="8.8">G</text><rect x="921.8" width="22" height="10.5"/><text x="932.8" y="8.8">G</text></g></g>
<g transform="translate(0,249.3)"><g class="G"><rect x="516" width="22" height="10.5"/><text x="527" y="8.8">G</text><rect x="543.1" width="22" height="10.5"/><text x="554.1" y="8.8">G</text><rect x="570.1" width="22" height="10.5"/><text x="581.1" y="8.8">G</text><rect x="597.2" width="22" height="10.5"/><text x="608.2" y="8.8">G</text><rect x="624.2" width="22" height="10.5"/><text x="635.2" y="8.8">G</text><rect x="651.3" width="22" height="10.5"/><text x="662.3" y="8.8">G</text><rect x="678.3" width="22" height="10.5"/><text x="689.3" y="8.8">G</text><rect x="705.4" width="22" height="10.5"/><text x="716.4" y="8.8">G</text><rect x="732.4" width="22" height="10.5"/><text x="743.4" y="8.8">G</text><rect x="759.5" width="22" height="10.5"/><text x="770.5" y="8.8">G</text><rect x="786.5" width="22" height="10.5"/><text x="797.5" y="8.8">G</text><rect x="813.6" width="22" height="10.5"/><text x="824.6" y="8.8">G</text><rect x="840.6" width="22" height="10.5"/><text x="851.6" y="8.8">G</text><rect x="867.7" width="22" height="10.5"/><text x="878.7" y="8.8">G</text><rect x="894.7" width="22" height="10.5"/><text x="905.7" y="8.8">G</text><rect x="921.8" width="22" height="10.5"/><text x="932.8" y="8.8">G</text></g></g>
<g transform="translate(0,265.6)"><g class="G"><rect x="516" width="22" height="10.5"/><text x="527" y="8.8">G</text><rect x="543.1" width="22" height="10.5"/><text x="554.1" y="8.8">G</text><rect x="570.1" width="22" height="10.5"/><text x="581.1" y="8.8">G</text><rect x="597.2" width="22" height="10.5"/><text x="608.2" y="8.8">G</text><rect x="624.2" width="22" height="10.5"/><text x="635.2" y="8.8">G</text><rect x="651.3" width="22" height="10.5"/><text x="662.3" y="8.8">G</text><rect x="678.3" width="22" height="10.5"/><text x="689.3" y="8.8">G</text><rect x="705.4" width="22" height="10.5"/><text x="716.4" y="8.8">G</text><rect x="732.4" width="22" height="10.5"/><text x="743.4" y="8.8">G</text><rect x="759.5" width="22" height="10.5"/><text x="770.5" y="8.8">G</text><rect x="786.5" width="22" height="10.5"/><text x="797.5" y="8.8">G</text><rect x="813.6" width="22" height="10.5"/><text x="824.6" y="8.8">G</text><rect x="840.6" width="22" height="10.5"/><text x="851.6" y="8.8">G</text><rect x="867.7" width="22" height="10.5"/><text x="878.7" y="8.8">G</text><rect x="894.7" width="22" height="10.5"/><text x="905.7" y="8.8">G</text><rect x="921.8" width="22" height="10.5"/><text x="932.8" y="8.8">G</text></g></g>
<g transform="translate(0,281.9)"><g class="G"><rect x="516" width="22" height="10.5"/><text x="527" y="8.8">G</text><rect x="543.1" width="22" height="10.5"/><text x="554.1" y="8.8">G</text><rect x="570.1" width="22" height="10.5"/><text x="581.1" y="8.8">G</text><rect x="597.2" width="22" height="10.5"/><text x="608.2" y="8.8">G</text><rect x="624.2" width="22" height="10.5"/><text x="635.2" y="8.8">G</text><rect x="651.3" width="22" height="10.5"/><text x="662.3" y="8.8">G</text><rect x="678.3" width="22" height="10.5"/><text x="689.3" y="8.8">G</text><rect x="705.4" width="22" height="10.5"/><text x="716.4" y="8.8">G</text><rect x="732.4" width="22" height="10.5"/><text x="743.4" y="8.8">G</text><rect x="759.5" width="22" height="10.5"/><text x="770.5" y="8.8">G</text><rect x="786.5" width="22" height="10.5"/><text x="797.5" y="8.8">G</text><rect x="813.6" width="22" height="10.5"/><text x="824.6" y="8.8">G</text><rect x="840.6" width="22" height="10.5"/><text x="851.6" y="8.8">G</text><rect x="867.7" width="22" height="10.5"/><text x="878.7" y="8.8">G</text><rect x="894.7" width="22" height="10.5"/><text x="905.7" y="8.8">G</text><rect x="921.8" width="22" height="10.5"/><text x="932.8" y="8.8">G</text></g></g>
<g transform="translate(0,298.2)"><g class="G"><rect x="516" width="22" height="10.5"/><text x="527" y="8.8">G</text><rect x="543.1" width="22" height="10.5"/><text x="554.1" y="8.8">G</text><rect x="570.1" width="22" height="10.5"/><text x="581.1" y="8.8">G</text><rect x="597.2" width="22" height="10.5"/><text x="608.2" y="8.8">G</text><rect x="624.2" width="22" height="10.5"/><text x="635.2" y="8.8">G</text><rect x="651.3" width="22" height="10.5"/><text x="662.3" y="8.8">G</text><rect x="678.3" width="22" height="10.5"/><text x="689.3" y="8.8">G</text><rect x="705.4" width="22" height="10.5"/><text x="716.4" y="8.8">G</text><rect x="732.4" width="22" height="10.5"/><text x="743.4" y="8.8">G</text><rect x="759.5" width="22" height="10.5"/><text x="770.5" y="8.8">G</text><rect x="786.5" width="22" height="10.5"/><text x="797.5" y="8.8">G</text><rect x="813.6" width="22" height="10.5"/><text x="824.6" y="8.8">G</text><rect x="840.6" width="22" height="10.5"/><text x="851.6" y="8.8">G</text><rect x="867.7" width="22" height="10.5"/><text x="878.7" y="8.8">G</text><rect x="894.7" width="22" height="10.5"/><text x="905.7" y="8.8">G</text><rect x="921.8" width="22" height="10.5"/><text x="932.8" y="8.8">G</text></g></g>
<g transform="translate(0,314.5)"><g class="G"><rect x="516" width="22" height="10.5"/><text x="527" y="8.8">G</text><rect x="543.1" width="22" height="10.5"/><text x="554.1" y="8.8">G</text><rect x="570.1" width="22" height="10.5"/><text x="581.1" y="8.8">G</text><rect x="597.2" width="22" height="10.5"/><text x="608.2" y="8.8">G</text><rect x="624.2" width="22" height="10.5"/><text x="635.2" y="8.8">G</text><rect x="651.3" width="22" height="10.5"/><text x="662.3" y="8.8">G</text><rect x="678.3" width="22" height="10.5"/><text x="689.3" y="8.8">G</text><rect x="705.4" width="22" height="10.5"/><text x="716.4" y="8.8">G</text><rect x="732.4" width="22" height="10.5"/><text x="743.4" y="8.8">G</text><rect x="759.5" width="22" height="10.5"/><text x="770.5" y="8.8">G</text><rect x="786.5" width="22" height="10.5"/><text x="797.5" y="8.8">G</text><rect x="813.6" width="22" height="10.5"/><text x="824.6" y="8.8">G</text><rect x="840.6" width="22" height="10.5"/><text x="851.6" y="8.8">G</text><rect x="867.7" width="22" height="10.5"/><text x="878.7" y="8.8">G</text><rect x="894.7" width="22" height="10.5"/><text x="905.7" y="8.8">G</text><rect x="921.8" width="22" height="10.5"/><text x="932.8" y="8.8">G</text></g></g>
<g transform="translate(0,330.8)"><g class="G"><rect x="516" width="22" height="10.5"/><text x="527" y="8.8">G</text><rect x="543.1" width="22" height="10.5"/><text x="554.1" y="8.8">G</text><rect x="570.1" width="22" height="10.5"/><text x="581.1" y="8.8">G</text><rect x="597.2" width="22" height="10.5"/><text x="608.2" y="8.8">G</text><rect x="624.2" width="22" height="10.5"/><text x="635.2" y="8.8">G</text><rect x="651.3" width="22" height="10.5"/><text x="662.3" y="8.8">G</text><rect x="678.3" width="22" height="10.5"/><text x="689.3" y="8.8">G</text><rect x="705.4" width="22" height="10.5"/><text x="716.4" y="8.8">G</text><rect x="732.4" width="22" height="10.5"/><text x="743.4" y="8.8">G</text><rect x="759.5" width="22" height="10.5"/><text x="770.5" y="8.8">G</text><rect x="786.5" width="22" height="10.5"/><text x="797.5" y="8.8">G</text><rect x="813.6" width="22" height="10.5"/><text x="824.6" y="8.8">G</text><rect x="840.6" width="22" height="10.5"/><text x="851.6" y="8.8">G</text><rect x="867.7" width="22" height="10.5"/><text x="878.7" y="8.8">G</text><rect x="894.7" width="22" height="10.5"/><text x="905.7" y="8.8">G</text><rect x="921.8" width="22" height="10.5"/><text x="932.8" y="8.8">G</text></g></g>
<g transform="translate(0,347.1)"><g class="G"><rect x="516" width="22" height="10.5"/><text x="527" y="8.8">G</text><rect x="543.1" width="22" height="10.5"/><text x="554.1" y="8.8">G</text><rect x="570.1" width="22" height="10.5"/><text x="581.1" y="8.8">G</text><rect x="597.2" width="22" height="10.5"/><text x="608.2" y="8.8">G</text><rect x="624.2" width="22" height="10.5"/><text x="635.2" y="8.8">G</text><rect x="651.3" width="22" height="10.5"/><text x="662.3" y="8.8">G</text><rect x="678.3" width="22" height="10.5"/><text x="689.3" y="8.8">G</text><rect x="705.4" width="22" height="10.5"/><text x="716.4" y="8.8">G</text><rect x="732.4" width="22" height="10.5"/><text x="743.4" y="8.8">G</text><rect x="759.5" width="22" height="10.5"/><text x="770.5" y="8.8">G</text><rect x="786.5" width="22" height="10.5"/><text x="797.5" y="8.8">G</text><rect x="813.6" width="22" height="10.5"/><text x="824.6" y="8.8">G</text><rect x="840.6" width="22" height="10.5"/><text x="851.6" y="8.8">G</text><rect x="867.7" width="22" height="10.5"/><text x="878.7" y="8.8">G</text><rect x="894.7" width="22" height="10.5"/><text x="905.7" y="8.8">G</text><rect x="921.8" width="22" height="10.5"/><text x="932.8" y="8.8">G</text></g></g>
<g class="badge"><rect x="733" y="107" width="22" height="22"/><circle cx="744" cy="118" r="6.5"/><text x="744" y="121.5">a</text></g>
<g class="badge"><rect x="587" y="152" width="22" height="21"/><circle cx="598" cy="162.5" r="6.5"/><text x="598" y="166">c</text></g>
<g class="badge"><rect x="717" y="150" width="21" height="22"/><circle cx="727.5" cy="161" r="6.5"/><text x="727.5" y="164.5">d</text></g>
</g>

<g id="connectors">
<line class="dim" x1="7" y1="60" x2="44" y2="60"/>
<line class="dim" x1="7" y1="368" x2="44" y2="368"/>
<line class="dim" x1="506" y1="48" x2="506" y2="59"/>
<line class="dim" x1="12" y1="60" x2="12" y2="368" marker-start="url(#ah)" marker-end="url(#ah)"/>
<line class="dim" x1="34" y1="60" x2="34" y2="331" marker-start="url(#ah)" marker-end="url(#ah)"/>
<line class="dim" x1="34" y1="331" x2="34" y2="368" marker-start="url(#ah)" marker-end="url(#ah)"/>
<line x1="23" y1="331" x2="946" y2="331" stroke="#000" stroke-width="1.2"/>
<line class="dim" x1="80" y1="66" x2="80" y2="47" marker-end="url(#ah)"/>
<line x1="946" y1="54" x2="506" y2="54" stroke="#000" stroke-width="2" marker-end="url(#ah)"/>
</g>

<g id="legend">
<g class="G"><rect x="117" y="392" width="33" height="9"/><text x="133.5" y="399.5" style="font-size:9px">G</text></g>
<text class="lbl" x="176" y="405">Error free</text>
<g class="badge"><rect x="118" y="410" width="22" height="14"/><circle cx="129" cy="417" r="5.5"/><text x="129" y="420.5" style="font-size:9px">a</text></g>
<text class="lbl" x="176" y="423">Errors that can be concealed with RS</text>
<g class="B"><rect x="505" y="392" width="32" height="9"/><text x="521" y="399.5" style="font-size:9px">B</text></g>
<text class="lbl" x="572" y="405">Corrupted broadcast security packet</text>
<g class="badge"><rect x="478" y="410" width="16" height="14"/><circle cx="486" cy="417" r="5.5"/><text x="486" y="420.5" style="font-size:9px">b</text></g>
<g class="badge"><rect x="497" y="410" width="16" height="14"/><circle cx="505" cy="417" r="5.5"/><text x="505" y="420.5" style="font-size:9px">c</text></g>
<g class="badge"><rect x="516" y="410" width="16" height="14"/><circle cx="524" cy="417" r="5.5"/><text x="524" y="420.5" style="font-size:9px">d</text></g>
<text class="lbl" x="572" y="423">Packets for retransmission (Priority order)</text>
</g>
</svg>
